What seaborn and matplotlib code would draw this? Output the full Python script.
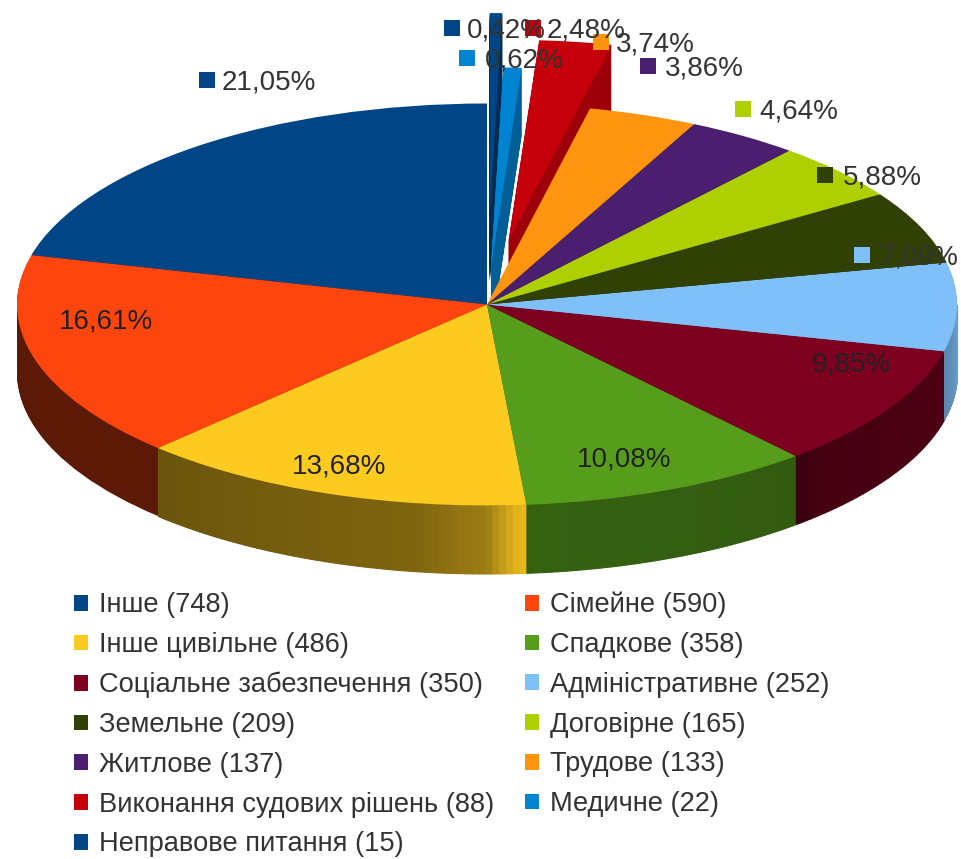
import numpy as np
import matplotlib
matplotlib.use("Agg")
import matplotlib.pyplot as plt
from matplotlib.patches import Patch
import seaborn as sns

categories = ["Інше", "Сімейне", "Інше цивільне", "Спадкове", "Соціальне забезпечення",
              "Адміністративне", "Земельне", "Договірне", "Житлове", "Трудове",
              "Виконання судових рішень", "Медичне", "Неправове питання"]
counts = [748, 590, 486, 358, 350, 252, 209, 165, 137, 133, 88, 22, 15]
percents = ["21,05%", "16,61%", "13,68%", "10,08%", "9,85%", "7,09%", "5,88%",
            "4,64%", "3,86%", "3,74%", "2,48%", "0,62%", "0,42%"]
explode = [0, 0, 0, 0, 0, 0, 0, 0, 0, 0, 0.32, 0.18, 0.45]

hex_colors = ["#004586", "#ff450e", "#fdca1f", "#579d1c", "#7e0021", "#7fc0f8", "#314004",
              "#aecf00", "#4b1f6f", "#ff950e", "#c5000b", "#0084d1", "#004586"]
# how dark the extruded sides are, per slice
side_dark = [0.4, 0.36, 0.45, 0.62, 0.55, 0.85, 0.5, 0.5, 0.5, 0.5, 0.8, 0.72, 0.62]

# pixel geometry of the reference pie
CX, CY, RX, RY, DEPTH = 487, 304.5, 470, 201, 68


def xp(x):
    return (x - CX) / RX


def yp(y):
    return (CY - y) / RY


sns.set_theme(style="white")
plt.rcParams["font.family"] = ["Liberation Sans", "DejaVu Sans"]
palette = sns.color_palette(hex_colors)
dark = [tuple(np.array(c) * f) for c, f in zip(palette, side_dark)]

fig = plt.figure(figsize=(9.61, 8.59), dpi=100)
ax = fig.add_axes([0, 0, 1, 1])

# extrusion: the pie repeated downwards, one pixel per layer
for d in range(DEPTH, 0, -1):
    ax.pie(counts, colors=dark, explode=explode, startangle=90, center=(0, -d / RY),
           wedgeprops=dict(linewidth=0))

# front rim with its shading
fractions = np.array(counts) / sum(counts)
edges = 90 + 360 * np.concatenate([[0], np.cumsum(fractions)])
shade_stops = {
    2: ([0, 0.72, 0.9, 0.97, 1], [0.42, 0.5, 0.62, 0.88, 0.92]),
    3: ([0, 1], [0.62, 0.58]),
    4: ([0, 0.12, 1], [0.45, 0.55, 0.62]),
    5: ([0, 1], [0.7, 0.95]),
}
for i, stops in shade_stops.items():
    angles = np.linspace(edges[i], edges[i + 1], 60)
    for k in range(len(angles) - 1):
        a = np.radians(angles[k:k + 2])
        if np.sin(a).max() > 0.0:
            continue
        col = np.array(palette[i]) * np.interp((k + 0.5) / 59, stops[0], stops[1])
        ax.fill_between(np.cos(a), np.sin(a), np.sin(a) - DEPTH / RY, color=col, linewidth=0.8)

ax.pie(counts, colors=palette, explode=explode, startangle=90, center=(0, 0),
       wedgeprops=dict(linewidth=0))

ax.set_aspect("auto")
ax.set_xlim(xp(0), xp(961))
ax.set_ylim(yp(859), yp(0))

# value labels with a little colour square
outer_labels = {0: (207, 222, 80), 5: (862, 880, 255), 6: (825, 843, 175), 7: (743, 759, 109),
                8: (648, 665, 66), 9: (601, 616, 42), 10: (533, 547, 28), 11: (467, 485, 58),
                12: (452, 467, 28)}
for i, (mx, tx, y) in outer_labels.items():
    ax.plot([xp(mx)], [yp(y)], marker="s", ms=11, color=palette[i], ls="none", mew=0)
    ax.text(xp(tx), yp(y + 2), percents[i], fontsize=20, color="#333333", ha="left", va="center")

inner_labels = {1: (106, 319), 2: (339, 464), 3: (624, 457), 4: (851, 362)}
for i, (x, y) in inner_labels.items():
    ax.text(xp(x), yp(y + 2), percents[i], fontsize=20, color="#222222", ha="center", va="center")

# legend fills column by column, the picture reads row by row
order = list(range(0, len(categories), 2)) + list(range(1, len(categories), 2))
handles = [Patch(color=palette[i], linewidth=0) for i in order]
labels = [f"{categories[i]} ({counts[i]})" for i in order]
ax.legend(handles, labels, ncols=2, loc="upper left", bbox_to_anchor=(74 / 961, 1 - 592 / 859),
          frameon=False, fontsize=19.6, handlelength=0.51, handleheight=0.51, handletextpad=0.4,
          labelspacing=0.505, columnspacing=1.13, borderpad=0, borderaxespad=0,
          labelcolor="#333333")

fig.savefig("out.png", dpi=100)
